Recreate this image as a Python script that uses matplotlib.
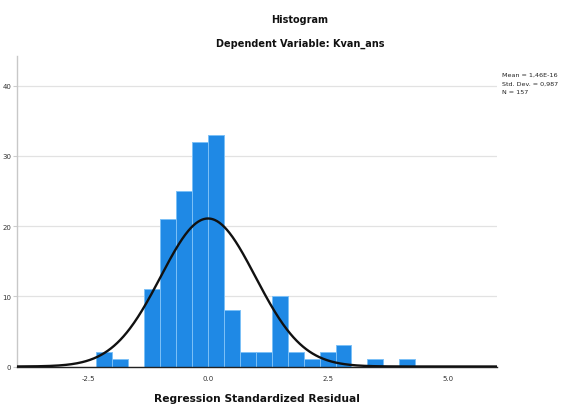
import numpy as np
import matplotlib
matplotlib.use("Agg")
import matplotlib.pyplot as plt

# ---- data ----
bin_start = -2.324          # left edge of first bin
bin_width = 0.332
counts = [2, 1, 0, 11, 21, 25, 32, 33, 8, 2, 2, 10, 2, 1, 2, 3, 0, 1, 0, 1]
stat_mean = 0.0
stat_sd = 0.987
stat_n = 157
stats_lines = ["Mean = 1,46E-16", "Std. Dev. = 0,987", "N = 157"]
x_ticks = [-2.5, 0.0, 2.5, 5.0]
x_tick_labels = ["-2.5", "0.0", "2.5", "5.0"]
y_ticks = [0, 10, 20, 30, 40]
y_tick_labels = ["0", "10", "20", "30", "40"]
title = "Histogram"
subtitle = "Dependent Variable: Kvan_ans"
xlabel = "Regression Standardized Residual"

fig = plt.figure(figsize=(5.74, 4.14), dpi=100)
ax = fig.add_axes([17/574, 1-367.5/414, (497-17)/574, (367.5-57)/414])

edges = bin_start + bin_width * np.arange(len(counts) + 1)
centers = (edges[:-1] + edges[1:]) / 2
ax.bar(centers, counts, width=bin_width, color="#1f89e5",
       edgecolor="#7cc0f7", linewidth=0.7, zorder=2)

xlim = (-3.98, 6.02)
xs = np.linspace(xlim[0], xlim[1], 600)
curve = stat_n * bin_width / (stat_sd * np.sqrt(2*np.pi)) * np.exp(-0.5*((xs-stat_mean)/stat_sd)**2)
ax.plot(xs, curve, color="#111111", lw=1.7, zorder=3, solid_capstyle="butt")

ax.set_xlim(*xlim)
ax.set_ylim(0, 44.2)
ax.set_xticks(x_ticks)
ax.set_xticklabels(x_tick_labels, fontsize=5, color="#333333")
ax.set_yticks(y_ticks)
ax.set_yticklabels(y_tick_labels, fontsize=5, color="#333333")
ax.tick_params(axis="x", length=0, pad=6)
ax.tick_params(axis="y", length=3, color="#cccccc", pad=1)
ax.yaxis.grid(True, color="#e2e2e2", lw=0.9, zorder=0)
ax.set_axisbelow(True)
for s in ["top", "right"]:
    ax.spines[s].set_visible(False)
ax.spines["left"].set_color("#c8c8c8")
ax.spines["left"].set_linewidth(1.0)
ax.spines["bottom"].set_color("#222222")
ax.spines["bottom"].set_linewidth(1.0)

ax.set_xlabel(xlabel, fontsize=7.7, fontweight="bold", labelpad=9, color="#111111")

fig.text(300/574, 1-20/414, title, ha="center", va="center", fontsize=7, fontweight="bold", color="#111111")
fig.text(300/574, 1-44/414, subtitle, ha="center", va="center", fontsize=7, fontweight="bold", color="#111111")
for i, line in enumerate(stats_lines):
    fig.text(502/574, 1-(75 + 9*i)/414, line, ha="left", va="center", fontsize=4.6, color="#222222")

fig.savefig("out.png", dpi=100)
